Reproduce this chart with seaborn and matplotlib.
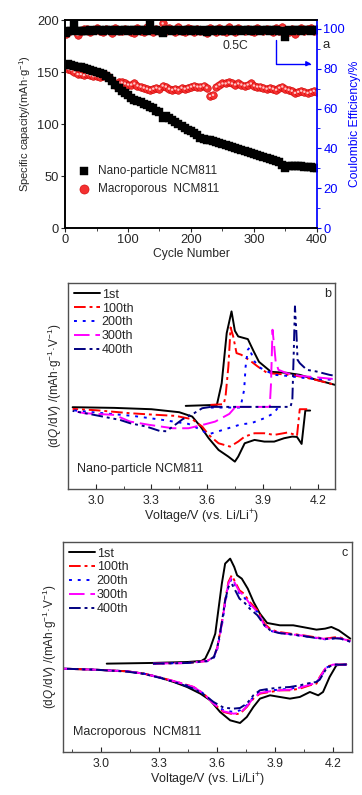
import numpy as np
import matplotlib
matplotlib.use('Agg')
import matplotlib.pyplot as plt
import seaborn as sns

# ---------------- panel a: cycling data (every 5th cycle) ----------------
cycles = [1] + list(range(5, 401, 5))

cap_nano = [157, 158, 157, 156, 155, 155, 154, 153, 152, 151,
            150, 149, 148, 146, 144, 141, 138, 135, 132, 130,
            128, 125, 123, 122, 121, 119, 118, 116, 115, 113,
            112, 106, 108, 106, 104, 102, 100, 98, 96, 94,
            93, 91, 89, 87, 86, 85, 85, 84, 83, 82,
            81, 80, 79, 78, 77, 76, 75, 74, 73, 72,
            71, 70, 69, 68, 67, 66, 65, 64, 63, 61,
            58, 60, 60, 60, 60, 60, 59, 59, 59, 58,
            58]
cap_macro = [155, 153, 152, 150, 148, 148, 147, 148, 147, 146,
             146, 145, 146, 147, 145, 141, 138, 140, 140, 139,
             138, 138, 139, 137, 136, 135, 134, 133, 134, 135,
             134, 137, 136, 134, 133, 134, 133, 135, 134, 135,
             136, 137, 136, 136, 137, 135, 127, 128, 136, 138,
             139, 139, 140, 139, 138, 139, 138, 137, 138, 139,
             137, 136, 136, 135, 134, 135, 134, 133, 135, 136,
             134, 133, 132, 130, 131, 132, 131, 130, 131, 132,
             131]
ce_nano = [98.0, 99.0, 99.2, 102.5, 99.0, 98.8, 99.2, 99.1, 99.3, 99.2,
           99.4, 99.3, 99.2, 99.4, 99.3, 99.1, 99.3, 99.2, 99.4, 99.3,
           99.2, 99.4, 99.3, 99.2, 99.4, 99.3, 99.1, 102.5, 99.4, 99.3,
           99.2, 97.8, 99.4, 99.3, 99.2, 99.4, 99.3, 99.2, 99.4, 99.3,
           99.2, 99.4, 99.3, 99.2, 99.4, 98.6, 99.3, 99.2, 99.4, 99.3,
           99.2, 99.4, 99.3, 99.2, 99.4, 99.3, 99.2, 99.4, 99.3, 99.2,
           99.4, 99.3, 99.2, 99.4, 99.3, 99.2, 99.4, 99.3, 98.8, 99.2,
           95.8, 99.3, 99.2, 99.4, 99.3, 99.2, 99.4, 99.3, 99.2, 99.4,
           99.3]
ce_macro = [97.5, 98.5, 99.5, 100.5, 97.0, 98.8, 99.8, 100.2, 98.5, 99.6,
            100.3, 99.0, 98.6, 100.0, 99.4, 98.2, 100.6, 99.2, 98.8, 100.1,
            99.5, 98.4, 97.8, 100.4, 99.0, 98.6, 100.8, 99.4, 98.3, 100.2,
            99.0, 102.8, 98.8, 100.5, 99.6, 98.4, 101.2, 99.1, 98.7, 100.6,
            99.8, 98.5, 100.2, 99.0, 98.8, 97.8, 100.4, 99.4, 98.6, 100.5,
            99.2, 98.7, 101.0, 99.5, 98.5, 100.3, 99.7, 98.9, 100.2, 99.0,
            98.6, 100.4, 99.3, 98.8, 100.1, 99.5, 98.7, 100.6, 99.2, 100.8,
            99.0, 98.4, 100.2, 97.6, 99.5, 100.4, 98.9, 99.8, 100.3, 99.2,
            100.0]

# ---------------- panel b: dQ/dV, nano-particle ----------------
b1_chg_v = [3.485, 3.653, 3.679, 3.706, 3.732, 3.75, 3.768, 3.82, 3.85, 3.88, 3.945, 4.03, 4.10, 4.19, 4.29]
b1_chg_q = [0.0, 0.3, 6.8, 21.8, 28.3, 22.5, 20.8, 20.0, 16.5, 13.2, 10.2, 9.9, 9.3, 7.8, 6.3]
b1_dis_v = [4.156, 4.13, 4.11, 4.085, 4.059, 4.015, 3.962, 3.909, 3.856, 3.803, 3.768, 3.75, 3.715,
            3.662, 3.609, 3.565, 3.52, 3.45, 3.30, 3.10, 2.875]
b1_dis_q = [-1.4, -1.4, -11.4, -9.3, -9.2, -9.7, -10.7, -10.7, -10.2, -11.2, -15.2, -16.7, -15.2,
            -13.2, -9.7, -6.2, -3.2, -1.9, -1.0, -0.6, -0.4]

b100_chg_v = [3.618, 3.69, 3.70, 3.715, 3.727, 3.741, 3.759, 3.785, 3.838, 3.873, 3.926, 4.0, 4.06, 4.13, 4.2, 4.29]
b100_chg_q = [0.3, 0.5, 3.0, 11.8, 23.5, 20.8, 15.8, 15.3, 13.3, 11.8, 9.8, 9.5, 9.2, 8.5, 7.6, 6.3]
b100_dis_v = [4.14, 4.10, 4.085, 4.06, 4.032, 3.962, 3.909, 3.856, 3.803, 3.768, 3.724, 3.662, 3.609,
              3.574, 3.52, 3.43, 3.30, 3.185, 3.0, 2.875]
b100_dis_q = [-1.0, -1.0, -9.0, -8.4, -8.0, -8.7, -8.2, -8.2, -9.2, -10.7, -12.2, -11.2, -8.7,
              -6.2, -4.0, -3.0, -2.6, -2.2, -1.3, -0.9]

b200_chg_v = [3.62, 3.78, 3.80, 3.808, 3.82, 3.83, 3.838, 3.856, 3.89, 3.962, 4.03, 4.10, 4.20, 4.29]
b200_chg_q = [-0.5, -0.5, 4.8, 11.8, 16.8, 17.5, 15.8, 13.3, 11.3, 9.3, 9.0, 8.5, 8.0, 7.8]
b200_dis_v = [3.98, 3.96, 3.909, 3.838, 3.785, 3.697, 3.609, 3.56, 3.50, 3.36, 3.20, 3.0, 2.875]
b200_dis_q = [-0.7, -2.2, -3.7, -5.2, -5.5, -7.0, -8.5, -7.0, -5.4, -4.2, -3.0, -2.0, -1.3]

b300_chg_v = [3.75, 3.938, 3.945, 3.953, 3.962, 3.97, 3.985, 4.03, 4.10, 4.20, 4.29]
b300_chg_q = [-0.3, -0.3, 6.8, 22.8, 18.0, 13.3, 10.8, 9.8, 9.0, 8.5, 8.0]
b300_dis_v = [3.75, 3.72, 3.644, 3.59, 3.50, 3.415, 3.29, 3.185, 3.10, 2.94, 2.875]
b300_dis_q = [-0.5, -2.4, -4.7, -5.5, -6.7, -6.7, -5.7, -4.7, -2.7, -2.2, -1.5]

b400_chg_v = [3.62, 4.05, 4.06, 4.068, 4.074, 4.082, 4.088, 4.10, 4.138, 4.19, 4.26, 4.29]
b400_chg_q = [-0.3, -0.3, 1.8, 16.8, 29.8, 21.8, 13.8, 12.8, 10.8, 10.3, 9.3, 9.0]
b400_dis_v = [3.62, 3.574, 3.53, 3.468, 3.42, 3.38, 3.344, 3.273, 3.185, 3.13, 3.0, 2.875]
b400_dis_q = [-0.3, -0.7, -2.2, -4.0, -6.0, -7.6, -7.5, -6.2, -5.2, -4.2, -2.8, -1.5]

# ---------------- panel c: dQ/dV, macroporous ----------------
c1_chg_v = [3.031, 3.26, 3.45, 3.52, 3.54, 3.565, 3.592, 3.626, 3.643, 3.669, 3.69, 3.705, 3.729,
            3.76, 3.79, 3.823, 3.86, 3.926, 3.995, 4.06, 4.115, 4.16, 4.192, 4.23, 4.29]
c1_chg_q = [0.0, 0.2, 0.5, 0.8, 1.5, 4.5, 9.0, 24.0, 30.0, 31.5, 29.0, 26.5, 25.5,
            22.5, 18.5, 15.0, 12.2, 11.5, 11.5, 10.8, 10.2, 10.5, 11.0, 10.0, 7.5]
c1_dis_v = [4.269, 4.218, 4.183, 4.149, 4.124, 4.081, 4.029, 3.978, 3.926, 3.875, 3.823, 3.789,
            3.755, 3.72, 3.669, 3.617, 3.566, 3.515, 3.446, 3.377, 3.309, 3.223, 3.137, 2.966, 2.80]
c1_dis_q = [-0.2, -0.5, -4.0, -8.5, -9.5, -8.5, -10.0, -10.5, -10.0, -9.5, -10.5, -13.0,
            -16.0, -17.8, -17.0, -14.5, -11.0, -9.0, -7.0, -5.5, -4.2, -3.0, -2.3, -1.8, -1.5]

c_chg_v = [3.27, 3.45, 3.55, 3.585, 3.603, 3.625, 3.643, 3.66, 3.677, 3.695, 3.717, 3.74,
           3.77, 3.81, 3.846, 3.88, 3.92, 3.98, 4.046, 4.10, 4.16, 4.21, 4.24, 4.29]
c100_chg_q = [0.0, 0.2, 0.8, 2.0, 5.0, 12.0, 19.0, 24.5, 26.5, 24.5, 22.0, 21.0,
              18.5, 16.0, 12.0, 10.2, 9.5, 9.0, 8.5, 8.0, 7.5, 7.9, 7.8, 6.8]
c200_chg_q = [0.0, 0.2, 0.7, 1.8, 4.5, 11.0, 18.0, 23.5, 25.5, 23.5, 21.0, 20.0,
              17.5, 15.5, 11.5, 9.8, 9.2, 8.8, 8.3, 7.8, 7.3, 7.6, 7.5, 6.6]
c300_chg_q = [0.0, 0.2, 0.8, 2.0, 4.8, 11.5, 18.5, 24.0, 26.0, 24.0, 21.5, 20.5,
              18.0, 15.5, 11.5, 9.9, 9.3, 8.8, 8.4, 7.9, 7.4, 7.7, 7.6, 6.7]
c400_chg_q = [0.0, 0.2, 0.8, 2.0, 5.0, 12.0, 19.0, 23.0, 24.0, 22.0, 19.5, 18.5,
              16.5, 14.5, 11.5, 9.8, 9.2, 8.8, 8.3, 7.8, 7.4, 7.6, 7.5, 6.6]

c_dis_v = [4.27, 4.20, 4.166, 4.132, 4.115, 4.081, 4.029, 3.978, 3.926, 3.875, 3.823, 3.789,
           3.755, 3.72, 3.686, 3.635, 3.583, 3.532, 3.48, 3.395, 3.309, 3.223, 3.137, 2.966, 2.80]
c100_dis_q = [-0.3, -0.3, -1.0, -4.0, -6.0, -6.5, -7.5, -8.0, -8.0, -8.5, -9.0, -10.5,
              -13.0, -15.0, -15.2, -14.5, -12.0, -9.0, -7.0, -5.5, -4.2, -3.0, -2.3, -1.8, -1.5]
c200_dis_q = [-0.3, -0.3, -1.2, -4.5, -5.5, -6.0, -7.0, -7.5, -7.8, -8.0, -8.5, -10.0,
              -12.5, -14.0, -14.5, -14.0, -11.8, -9.0, -7.2, -5.6, -4.2, -3.0, -2.3, -1.8, -1.5]
c300_dis_q = [-0.3, -0.3, -1.0, -4.2, -5.8, -6.3, -7.2, -7.8, -8.0, -8.3, -8.8, -10.3,
              -12.8, -14.8, -15.0, -14.3, -12.0, -9.0, -7.0, -5.5, -4.2, -3.0, -2.3, -1.8, -1.5]
c400_dis_q = [-0.3, -0.3, -1.5, -4.8, -5.5, -5.8, -6.5, -7.0, -7.2, -7.5, -8.0, -9.5,
              -12.0, -13.3, -13.5, -13.2, -11.5, -9.2, -7.5, -5.8, -4.3, -3.1, -2.4, -1.8, -1.5]

cycle_labels = ['1st', '100th', '200th', '300th', '400th']
line_colors = ['black', '#ff0000', '#0000ff', '#ff00ff', '#000080']
line_styles = ['-', (0, (6, 2, 1.5, 2)), (0, (1.5, 3)), (0, (8, 3)), (0, (6, 2, 1.5, 2, 1.5, 2))]

sns.set_theme(style='ticks')
plt.rcParams['font.family'] = ['Liberation Sans', 'DejaVu Sans']
plt.rcParams['mathtext.fontset'] = 'custom'
plt.rcParams['mathtext.rm'] = 'Liberation Sans'
plt.rcParams['mathtext.it'] = 'Liberation Sans:italic'
FS = 8.5

fig = plt.figure(figsize=(3.62, 7.95), dpi=100)

# ---------------- panel a ----------------
axa = fig.add_axes([0.1796, 0.7132, 0.696, 0.2616])
axa2 = axa.twinx()
red_kw = dict(marker='o', s=30, color='#f43030', edgecolor='#d00000', linewidth=0.4)
hi_kw = dict(marker='o', s=3, color='#ffc8c8', edgecolor='none', legend=False)
blk_kw = dict(marker='s', s=28, color='black', edgecolor='black', linewidth=0.3)

sns.scatterplot(x=cycles, y=cap_macro, ax=axa, label='Macroporous  NCM811', legend=False, **red_kw)
sns.scatterplot(x=cycles, y=cap_macro, ax=axa, **hi_kw)
sns.scatterplot(x=cycles, y=cap_nano, ax=axa, label='Nano-particle NCM811', legend=False, **blk_kw)
sns.scatterplot(x=cycles, y=ce_macro, ax=axa2, legend=False, **red_kw)
sns.scatterplot(x=cycles, y=ce_macro, ax=axa2, **hi_kw)
sns.scatterplot(x=cycles, y=ce_nano, ax=axa2, legend=False, **blk_kw)

axa.set_xlim(0, 400)
axa.set_ylim(0, 200)
axa2.set_ylim(0, 104.5)
axa.set_xticks([0, 100, 200, 300, 400])
axa.set_xticks(np.arange(50, 400, 100), minor=True)
axa.set_yticks([0, 50, 100, 150, 200])
axa2.set_yticks([0, 20, 40, 60, 80, 100])
axa2.set_yticks(np.arange(10, 101, 20), minor=True)
axa.tick_params(labelsize=9.3, length=3, width=0.8, pad=1.5, direction='out')
axa.tick_params(which='minor', length=2, width=0.6, direction='out')
axa2.tick_params(labelsize=9.3, length=3, width=0.8, pad=1.5, colors='#0000ff', direction='out')
axa2.tick_params(which='minor', length=2, width=0.6, direction='out', colors='#0000ff')
axa.set_xlabel('Cycle Number', fontsize=8.7, labelpad=1)
axa.set_ylabel('Specific capacity/(mAh·g$^{-1}$)', fontsize=8.0, labelpad=3)
axa2.set_ylabel('Coulombic Efficiency/%', fontsize=8.7, color='#0000ff', labelpad=3)
axa.spines['right'].set_visible(False)
axa2.spines['right'].set_color('#0000ff')
for sp in ['left', 'top', 'bottom']:
    axa2.spines[sp].set_color('black')
h, l = axa.get_legend_handles_labels()
axa.legend(h[::-1], l[::-1], loc='lower left', bbox_to_anchor=(-0.02, 0.1), frameon=False,
           fontsize=FS, handletextpad=0.2, labelspacing=0.55, markerscale=1.2,
           borderaxespad=0.6)
axa.text(270, 175, '0.5C', fontsize=8.7, ha='center', va='center')
axa.annotate('', xy=(391, 158), xytext=(335, 181), xycoords='data',
             arrowprops=dict(arrowstyle='-|>', color='#0000ff', lw=1.0, mutation_scale=7,
                             connectionstyle='angle,angleA=90,angleB=0,rad=0',
                             shrinkA=0, shrinkB=0))
fig.text(326 / 362, 1 - 45 / 795, 'a', fontsize=9.5, ha='center', va='center')


def draw_branch(ax, v, q, i, label=None):
    sns.lineplot(x=v, y=q, ax=ax, color=line_colors[i], linestyle=line_styles[i],
                 lw=1.4, sort=False, estimator=None, label=label, legend=False)


def style_dqdv(ax, xlim, ylim, letter, sample):
    ax.set_xlim(*xlim)
    ax.set_ylim(*ylim)
    ax.set_xticks([3.0, 3.3, 3.6, 3.9, 4.2])
    ax.set_xticks(np.arange(2.85, 4.31, 0.15), minor=True)
    ax.set_yticks([])
    ax.tick_params(axis='x', labelsize=FS + 0.3, length=3.5, width=0.8, pad=4, direction='in')
    ax.tick_params(axis='x', which='minor', length=2, width=0.6, direction='in')
    for sp in ax.spines.values():
        sp.set_color('#505050')
        sp.set_linewidth(1.0)
    ax.set_xlabel('Voltage/V (vs. Li/Li$^{+}$)', fontsize=FS + 0.5, labelpad=1)
    ax.set_ylabel(r'$(\mathrm{d}Q\,/\mathrm{d}V)$ /(mAh·g$^{-1}$·V$^{-1}$)', fontsize=FS, labelpad=3)
    ax.text(0.985, 0.975, letter, transform=ax.transAxes, fontsize=FS + 0.5, ha='right', va='top')
    ax.text(0.035, 0.095, sample, transform=ax.transAxes, fontsize=FS + 0.5, ha='left', va='center')
    ax.legend(loc='upper left', frameon=False, fontsize=FS + 0.5, handlelength=2.1,
              handletextpad=0.15, labelspacing=0.15, borderaxespad=0.25, borderpad=0.2)


# ---------------- panel b ----------------
axb = fig.add_axes([0.1878, 0.3849, 0.7376, 0.2591])
b_chg_v = [b1_chg_v, b100_chg_v, b200_chg_v, b300_chg_v, b400_chg_v]
b_chg_q = [b1_chg_q, b100_chg_q, b200_chg_q, b300_chg_q, b400_chg_q]
b_dis_v = [b1_dis_v, b100_dis_v, b200_dis_v, b300_dis_v, b400_dis_v]
b_dis_q = [b1_dis_q, b100_dis_q, b200_dis_q, b300_dis_q, b400_dis_q]
for i in range(5):
    draw_branch(axb, b_chg_v[i], b_chg_q[i], i, cycle_labels[i])
    draw_branch(axb, b_dis_v[i], b_dis_q[i], i)
style_dqdv(axb, (2.875, 4.29), (-24.9, 36.8), 'b', 'Nano-particle NCM811')

# ---------------- panel c ----------------
axc = fig.add_axes([0.174, 0.0541, 0.798, 0.2642])
c_chg_q = [c1_chg_q, c100_chg_q, c200_chg_q, c300_chg_q, c400_chg_q]
c_dis_q = [c1_dis_q, c100_dis_q, c200_dis_q, c300_dis_q, c400_dis_q]
for i in range(5):
    cv = c1_chg_v if i == 0 else c_chg_v
    dv = c1_dis_v if i == 0 else c_dis_v
    draw_branch(axc, cv, c_chg_q[i], i, cycle_labels[i])
    draw_branch(axc, dv, c_dis_q[i], i)
style_dqdv(axc, (2.805, 4.298), (-26.5, 36.5), 'c', 'Macroporous  NCM811')

fig.savefig('out.png', dpi=100)
